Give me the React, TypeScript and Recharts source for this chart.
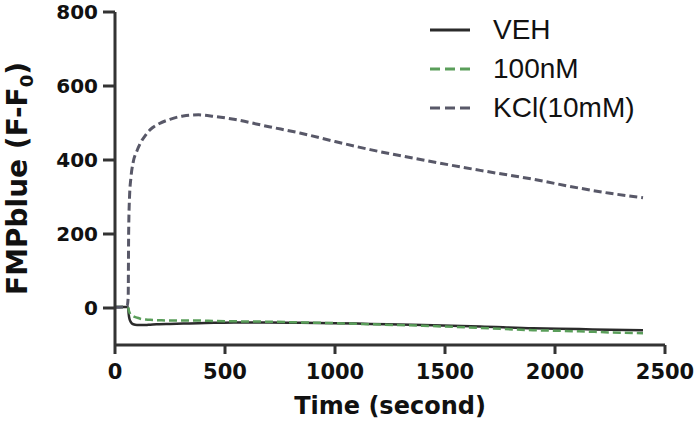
import { type FC } from 'react';
import {
  LineChart,
  Line,
  XAxis,
  YAxis,
  Label,
} from 'recharts';

// time points (s), shared by all three traces
const time = [
  0, 55, 60, 62, 66, 72, 83, 100, 115, 140, 160, 200, 250, 310, 380, 450, 540,
  700, 840, 1000, 1160, 1400, 1660, 1900, 2110, 2250, 2400,
];
const veh = [
  3, 3, 0, -15, -30, -38, -44, -46, -46, -46, -45, -44, -43, -42, -41, -40, -39,
  -39, -40, -41, -43, -46, -50, -55, -57, -59, -60,
];
const nm100 = [
  3, 3, 0, -5, -12, -18, -22, -26, -29, -31, -32, -33, -34, -34, -34, -35, -36,
  -37, -39, -41, -44, -48, -54, -60, -63, -66, -68,
];
const kcl = [
  2, 4, 30, 200, 300, 350, 395, 425, 445, 468, 482, 498, 510, 519, 522, 518, 510,
  490, 473, 450, 428, 400, 372, 348, 324, 310, 298,
];

const xTicks = [0, 500, 1000, 1500, 2000, 2500];
const yTicks = [0, 200, 400, 600, 800];

const series = [
  { key: 'veh', name: 'VEH', color: '#2b2b2b', dash: undefined, legendDash: undefined, width: 2.5 },
  { key: 'nm100', name: '100nM', color: '#5a9e5a', dash: '8 4', legendDash: '10 5', width: 2.5 },
  { key: 'kcl', name: 'KCl(10mM)', color: '#585868', dash: '8 4', legendDash: '10 5', width: 3 },
];

const data = time.map((t, i) => ({ t, veh: veh[i], nm100: nm100[i], kcl: kcl[i] }));

const AXIS = '#333';
const BOLD_FONT = '"DejaVu Sans", sans-serif';

const YTitle: FC<any> = ({ viewBox }) => {
  const cy = viewBox ? viewBox.y + viewBox.height / 2 : 178;
  const x = 27;
  return (
    <text
      x={x}
      y={cy}
      transform={`rotate(-90, ${x}, ${cy})`}
      textAnchor="middle"
      fontFamily={BOLD_FONT}
      fontWeight="bold"
      fontSize={28}
      fill="#111"
    >
      FMPblue (F-F
      <tspan fontSize={18} dy={6}>0</tspan>
      <tspan dy={-6}>)</tspan>
    </text>
  );
};

const LegendBox: FC = () => (
  <div style={{ position: 'absolute', left: 430, top: 10 }}>
    {series.map((s) => (
      <div key={s.key} style={{ display: 'flex', alignItems: 'center', height: 39 }}>
        <svg width={40} height={6}>
          <line
            x1={0}
            y1={3}
            x2={40}
            y2={3}
            stroke={s.color}
            strokeWidth={3}
            strokeDasharray={s.legendDash}
          />
        </svg>
        <span
          style={{
            marginLeft: 23,
            fontSize: 28,
            fontFamily: '"Liberation Sans", Arial, sans-serif',
            color: '#111',
            lineHeight: '39px',
          }}
        >
          {s.name}
        </span>
      </div>
    ))}
  </div>
);

const App: FC = () => {
  return (
    <div style={{ position: 'absolute', left: 0, top: 0, width: 698, height: 426, background: '#fff' }}>
      <LineChart width={698} height={426} data={data} margin={{ top: 12, right: 33, bottom: 0, left: 0 }}>
        <XAxis
          dataKey="t"
          type="number"
          domain={[0, 2500]}
          ticks={xTicks}
          height={81}
          tickSize={9}
          tickMargin={10}
          axisLine={{ stroke: AXIS, strokeWidth: 3 }}
          tickLine={{ stroke: AXIS, strokeWidth: 3 }}
          tick={{ fontSize: 21, fontWeight: 'bold', fill: '#111', fontFamily: BOLD_FONT }}
        >
          <Label
            value="Time (second)"
            position="insideBottom"
            offset={12}
            style={{ fontSize: 24, fontWeight: 'bold', fill: '#111', fontFamily: BOLD_FONT }}
          />
        </XAxis>
        <YAxis
          type="number"
          domain={[-100, 800]}
          ticks={yTicks}
          width={115}
          tickSize={12}
          tickMargin={5}
          axisLine={{ stroke: AXIS, strokeWidth: 3 }}
          tickLine={{ stroke: AXIS, strokeWidth: 3 }}
          tick={{ fontSize: 20, fontWeight: 'bold', fill: '#111', fontFamily: BOLD_FONT }}
        >
          <Label content={<YTitle />} />
        </YAxis>
        {series.map((s) => (
          <Line
            key={s.key}
            type="monotone"
            dataKey={s.key}
            name={s.name}
            stroke={s.color}
            strokeWidth={s.width}
            strokeDasharray={s.dash}
            dot={false}
            activeDot={false}
            isAnimationActive={false}
          />
        ))}
      </LineChart>
      <LegendBox />
    </div>
  );
};

export default App;
